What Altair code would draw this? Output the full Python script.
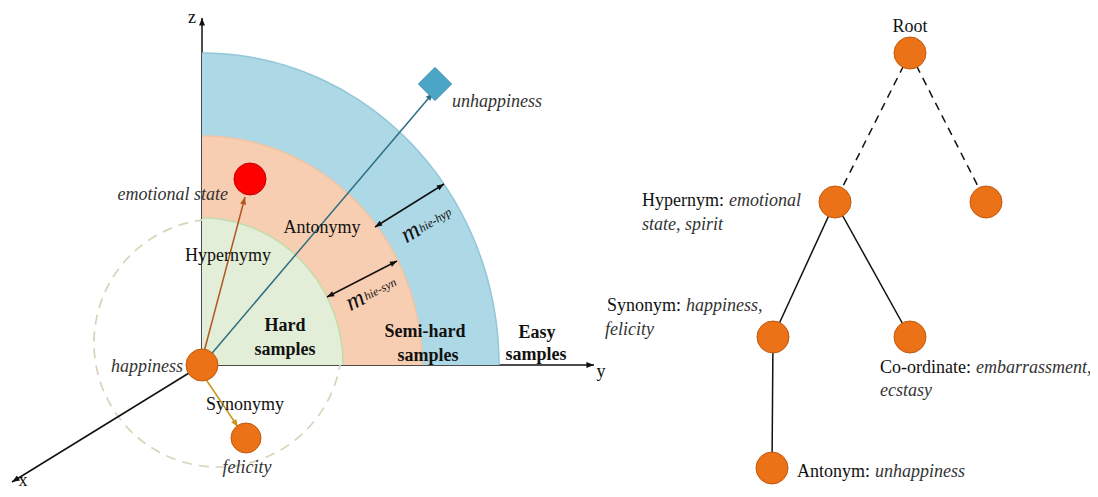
import math
import altair as alt
import numpy as np
import pandas as pd

# ---------------- canvas (reference pixel coordinates) ----------------
W, H, M = 1082, 481, 8
SERIF = "Liberation Serif"

xs = alt.Scale(domain=[M, M + W], nice=False, zero=False)
ys = alt.Scale(domain=[M, M + H], nice=False, zero=False, reverse=True)


def X(f="x"):
    return alt.X(f, type="quantitative", scale=xs, axis=None)


def Y(f="y"):
    return alt.Y(f, type="quantitative", scale=ys, axis=None)


# ---------------- data ----------------
ORIGIN = (202, 365)

disc_name = ["Easy", "Semi-hard", "Hard"]
disc_rx = [297, 220, 141]
disc_ry = [312, 229, 147]
disc_fill = ["#add8e6", "#f8ceb2", "#e3eed8"]
disc_edge = ["#93c6d8", "#f2c3a3", "#c3dbab"]

# axis lines (drawn behind the discs)
axis_x1 = [202, 202]
axis_y1 = [365, 365]
axis_x2 = [202, 594]
axis_y2 = [18, 365]

# arrows drawn on top: x-axis, unhappiness, hypernymy, synonymy
arr_name = ["x", "unhappiness", "emotional state", "felicity"]
arr_x1 = [202, 202, 204, 205]
arr_y1 = [365, 365, 352, 378]
arr_x2 = [12, 433, 245, 238]
arr_y2 = [482, 93, 197, 427]
arr_col = ["#111111", "#2d6e82", "#b0561e", "#c9961c"]

# margin double arrows (m_hie-syn, m_hie-hyp)
dbl_x1 = [327, 375]
dbl_y1 = [297, 227]
dbl_x2 = [397, 444]
dbl_y2 = [261, 184]

# dashed neighbourhood circle
circ_cx, circ_cy, circ_r = [218], [343], [124]

# left nodes
lnode_name = ["happiness", "emotional state", "felicity"]
lnode_x = [202, 250, 246]
lnode_y = [365, 179, 438]
lnode_r = [16, 16, 15]
lnode_fill = ["#ec7217", "#ff0000", "#ec7217"]
lnode_edge = ["#c0580f", "#c00000", "#c0580f"]

diamond_x, diamond_y = [435], [84]

# tree
tree_name = ["Root", "Hypernym", "Other", "Synonym", "Co-ordinate", "Antonym"]
tree_x = [910, 835, 986, 773, 910, 772]
tree_y = [53, 202, 202, 337, 337, 468]
tree_r = 16
edge_from = ["Root", "Root", "Hypernym", "Hypernym", "Synonym"]
edge_to = ["Hypernym", "Other", "Synonym", "Co-ordinate", "Antonym"]
edge_dashed = [True, True, False, False, False]

# texts
reg_c_text = ["Root", "Hypernymy", "Antonymy", "Synonymy", "z", "y", "x"]
reg_c_x = [910, 228, 322, 245, 192, 601, 23]
reg_c_y = [27, 256, 228, 405, 18, 372, 481]

reg_l_text = ["Hypernym:", "Synonym:", "Co-ordinate:", "Antonym:"]
reg_l_x = [642, 607, 880, 797]
reg_l_y = [201, 306, 368, 472]

it_l_text = ["emotional", "state, spirit", "happiness,", "felicity",
             "embarrassment,", "ecstasy", "unhappiness", "unhappiness"]
it_l_x = [729, 642, 686, 605, 976, 880, 875, 452]
it_l_y = [201, 225, 306, 330, 368, 391, 472, 102]

it_r_text = ["emotional state", "happiness"]
it_r_x = [228, 183]
it_r_y = [195, 367]

it_c_text = ["felicity"]
it_c_x = [247]
it_c_y = [468]

bold_text = ["Hard", "samples", "Semi-hard", "samples", "Easy", "samples"]
bold_x = [285, 285, 425, 428, 537, 536]
bold_y = [326, 350, 332, 356, 333, 355]

m_x = [355, 410]
m_y = [300, 232]
sub_text = ["hie-syn", "hie-hyp"]
sub_x = [380, 435]
sub_y = [289, 220]
m_angle = [333, 329]

# ---------------- helpers ----------------
HEAD = "M0,0L-0.75,1.9L0.75,1.9Z"


def heads(x1, y1, x2, y2, both=False):
    rows = []
    for a, b, c, d in zip(x1, y1, x2, y2):
        ang = math.degrees(math.atan2(c - a, -(d - b))) % 360
        rows.append(dict(x=c, y=d, angle=ang))
        if both:
            rows.append(dict(x=a, y=b, angle=(ang + 180) % 360))
    return pd.DataFrame(rows)


def seg_df(x1, y1, x2, y2):
    return pd.DataFrame(dict(x=x1, y=y1, x2=x2, y2=y2))


def rule(df, color, width=1.5, dash=None, colorfield=None):
    kw = dict(strokeWidth=width)
    if dash:
        kw["strokeDash"] = dash
    enc = dict(x=X(), y=Y(), x2=alt.X2("x2"), y2=alt.Y2("y2"))
    if colorfield:
        enc["color"] = alt.Color(colorfield, type="nominal", scale=None)
    else:
        kw["color"] = color
    return alt.Chart(df).mark_rule(**kw).encode(**enc)


def head_layer(df, color=None, size=64, colorfield=None):
    enc = dict(x=X(), y=Y(), angle=alt.Angle("angle", type="quantitative", scale=None))
    kw = dict(shape=HEAD, filled=True, size=size, opacity=1, strokeWidth=0)
    if colorfield:
        enc["color"] = alt.Color(colorfield, type="nominal", scale=None)
    else:
        kw["color"] = color
    return alt.Chart(df).mark_point(**kw).encode(**enc)


def text_layer(texts, xv, yv, angle=None, **kw):
    d = pd.DataFrame(dict(text=texts, x=xv, y=yv))
    enc = dict(x=X(), y=Y(), text=alt.Text("text", type="nominal"))
    if angle is not None:
        d["angle"] = angle
        enc["angle"] = alt.Angle("angle", type="quantitative", scale=None)
    return alt.Chart(d).mark_text(font=SERIF, baseline="middle", **kw).encode(**enc)


layers = []

# axes behind discs
ax = seg_df(axis_x1, axis_y1, axis_x2, axis_y2)
layers.append(rule(ax, "#111111"))
layers.append(head_layer(heads(axis_x1, axis_y1, axis_x2, axis_y2), "#111111"))

# dashed circle (Vega circle symbol: diameter = sqrt(size))
circ = pd.DataFrame(dict(x=circ_cx, y=circ_cy, r=circ_r))
circ["size"] = (2 * circ["r"]) ** 2
layers.append(
    alt.Chart(circ).mark_point(shape="circle", filled=False, color="#d8d4ba",
                               strokeWidth=1.7, strokeDash=[10, 7], opacity=1)
    .encode(x=X(), y=Y(), size=alt.Size("size", type="quantitative", scale=None))
)

# quarter discs
t = np.radians(np.arange(0, 90.5, 1.0))
for name, rx, ry, fill, edge in zip(disc_name, disc_rx, disc_ry, disc_fill, disc_edge):
    d = pd.DataFrame(dict(t=t, x=ORIGIN[0] + rx * np.cos(t),
                          y=ORIGIN[1] - ry * np.sin(t), y0=ORIGIN[1]))
    layers.append(alt.Chart(d).mark_area(color=fill, opacity=1, line=False)
                  .encode(x=X(), y=Y(), y2=alt.Y2("y0")))
    layers.append(alt.Chart(d).mark_line(color=edge, strokeWidth=1.5)
                  .encode(x=X(), y=Y(), order=alt.Order("t", type="quantitative")))

# coloured arrows
ar = seg_df(arr_x1, arr_y1, arr_x2, arr_y2)
ar["col"] = arr_col
layers.append(rule(ar, None, colorfield="col"))
hd = heads(arr_x1, arr_y1, arr_x2, arr_y2)
hd["col"] = arr_col
layers.append(head_layer(hd, colorfield="col"))

# double arrows
db = seg_df(dbl_x1, dbl_y1, dbl_x2, dbl_y2)
layers.append(rule(db, "#111111"))
layers.append(head_layer(heads(dbl_x1, dbl_y1, dbl_x2, dbl_y2, both=True), "#111111", size=56))

# tree edges
pos = {n: (x, y) for n, x, y in zip(tree_name, tree_x, tree_y)}
te = pd.DataFrame(dict(x=[pos[a][0] for a in edge_from], y=[pos[a][1] for a in edge_from],
                       x2=[pos[b][0] for b in edge_to], y2=[pos[b][1] for b in edge_to],
                       dashed=edge_dashed))
layers.append(rule(te[te.dashed], "#111111", dash=[8, 6]))
layers.append(rule(te[~te.dashed], "#111111"))

# nodes
ln = pd.DataFrame(dict(name=lnode_name, x=lnode_x, y=lnode_y, r=lnode_r,
                       fill=lnode_fill, edge=lnode_edge))
ln["size"] = (2 * ln["r"]) ** 2
layers.append(
    alt.Chart(ln).mark_point(shape="circle", filled=True, opacity=1, strokeWidth=1)
    .encode(x=X(), y=Y(), size=alt.Size("size", type="quantitative", scale=None),
            fill=alt.Fill("fill", type="nominal", scale=None),
            stroke=alt.Stroke("edge", type="nominal", scale=None))
)
tn = pd.DataFrame(dict(name=tree_name, x=tree_x, y=tree_y))
layers.append(
    alt.Chart(tn).mark_point(shape="circle", filled=True, fill="#ec7217", stroke="#c0580f",
                             strokeWidth=1, opacity=1, size=(2 * tree_r) ** 2)
    .encode(x=X(), y=Y())
)
dm = pd.DataFrame(dict(x=diamond_x, y=diamond_y))
layers.append(
    alt.Chart(dm).mark_point(shape="diamond", filled=True, fill="#4ba6c6", stroke="#3a8cab",
                             strokeWidth=1, opacity=1, size=1100)
    .encode(x=X(), y=Y())
)

# texts
layers.append(text_layer(reg_c_text, reg_c_x, reg_c_y, fontSize=18, align="center", color="#111111"))
layers.append(text_layer(reg_l_text, reg_l_x, reg_l_y, fontSize=18, align="left", color="#111111"))
layers.append(text_layer(it_l_text, it_l_x, it_l_y, fontSize=18, align="left",
                         fontStyle="italic", color="#333333"))
layers.append(text_layer(it_r_text, it_r_x, it_r_y, fontSize=18, align="right",
                         fontStyle="italic", color="#333333"))
layers.append(text_layer(it_c_text, it_c_x, it_c_y, fontSize=18, align="center",
                         fontStyle="italic", color="#333333"))
layers.append(text_layer(bold_text, bold_x, bold_y, fontSize=18, align="center",
                         fontWeight="bold", color="#111111"))
layers.append(text_layer(["m", "m"], m_x, m_y, angle=m_angle, fontSize=25, align="center",
                         fontStyle="italic", color="#111111"))
layers.append(text_layer(sub_text, sub_x, sub_y, angle=m_angle, fontSize=12, align="center",
                         fontStyle="italic", color="#111111"))

chart = (
    alt.layer(*layers)
    .properties(width=W, height=H, padding=0, autosize=alt.AutoSizeParams(type="none"),
                background="white")
    .configure_view(stroke=None)
)

chart.save("out.html", embed_options={"renderer": "svg", "actions": False})
